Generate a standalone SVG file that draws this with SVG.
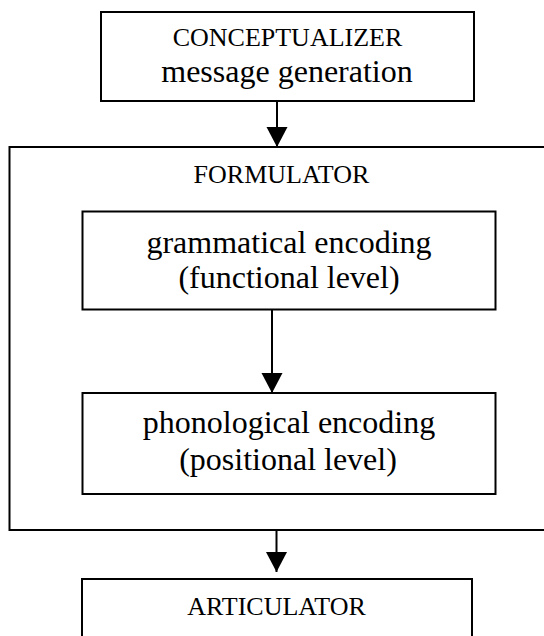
<svg xmlns="http://www.w3.org/2000/svg" width="544" height="636" viewBox="0 0 544 636">
<style>
.box{fill:#fff;stroke:#000;stroke-width:2}
.cont{fill:none;stroke:#000;stroke-width:2}
.lbl{font-family:"Liberation Serif","Times New Roman",serif;fill:#000;text-anchor:middle}
.caps{font-size:26px}
.big{font-size:32px}
.conn{stroke:#000;stroke-width:2;fill:none}
</style>
<defs>
<marker id="ah" markerUnits="userSpaceOnUse" markerWidth="22" markerHeight="22" refX="20" refY="10.5" orient="auto">
<path d="M0,0 L20,10.5 L0,21 Z" fill="#000"/>
</marker>
</defs>
<rect width="544" height="636" fill="#fff"/>
<g id="formulator">
<rect class="cont" x="9.5" y="147" width="545" height="383"/>
<text class="lbl caps" x="281.5" y="182.5">FORMULATOR</text>
</g>
<g id="conceptualizer">
<rect class="box" x="101" y="12" width="373" height="89"/>
<text class="lbl caps" x="287.5" y="46">CONCEPTUALIZER</text>
<text class="lbl big" x="287" y="82">message generation</text>
</g>
<g id="grammatical">
<rect class="box" x="82.5" y="211.5" width="413" height="98"/>
<text class="lbl big" x="289" y="252.5">grammatical encoding</text>
<text class="lbl big" x="289" y="287.5">(functional level)</text>
</g>
<g id="phonological">
<rect class="box" x="82.5" y="393" width="413" height="101"/>
<text class="lbl big" x="289" y="433">phonological encoding</text>
<text class="lbl big" x="288" y="469.5">(positional level)</text>
</g>
<g id="articulator">
<rect class="box" x="82" y="579" width="390" height="80"/>
<text class="lbl caps" x="276.5" y="615">ARTICULATOR</text>
</g>
<g id="connectors">
<line class="conn" x1="277" y1="102" x2="277" y2="147" marker-end="url(#ah)"/>
<line class="conn" x1="272" y1="310" x2="272" y2="393" marker-end="url(#ah)"/>
<line class="conn" x1="276.5" y1="530" x2="276.5" y2="572" marker-end="url(#ah)"/>
</g>
</svg>
